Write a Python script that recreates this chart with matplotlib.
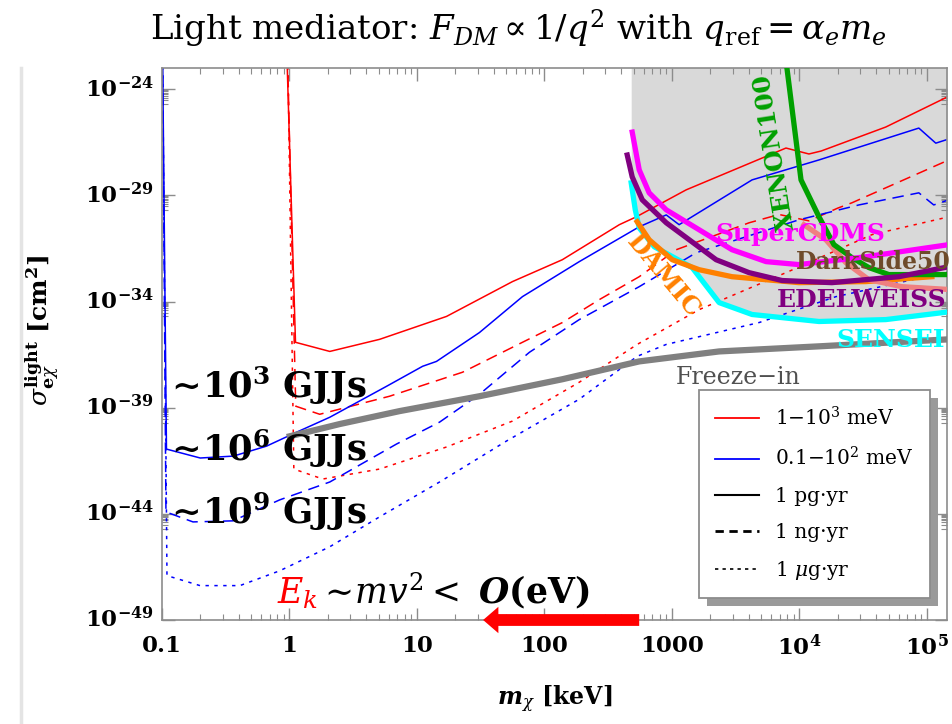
import numpy as np
import matplotlib.pyplot as plt
from matplotlib.lines import Line2D
from matplotlib.patches import Rectangle, FancyArrowPatch
from matplotlib.ticker import NullFormatter

# log10(m_chi / keV) and log10(sigma / cm^2) for every curve
red_pg_m = [-0.02, 0.047, 0.316, 0.707, 1.232, 1.749, 2.14, 2.587, 2.72, 3.111, 3.894, 4.074, 4.17, 4.677, 5.171]
red_pg_s = [-22.5, -35.92, -36.35, -35.78, -34.70, -33.06, -32.03, -30.38, -30.01, -28.74, -26.77, -27.05, -26.91, -25.78, -24.33]
red_ng_m = [-0.015, 0.049, 0.237, 0.785, 1.357, 1.827, 2.14, 2.43, 2.743, 3.033, 3.605, 3.84, 4.074, 4.30, 4.411, 5.171]
red_ng_s = [-22.5, -38.93, -39.31, -38.46, -37.33, -35.92, -34.99, -33.91, -32.83, -31.56, -30.29, -29.9, -30.2, -29.6, -29.35, -27.33]
red_ug_m = [-0.013, 0.034, 0.261, 0.707, 1.232, 1.749, 2.273, 2.727, 3.213, 3.894, 4.568, 5.171]
red_ug_s = [-22.5, -41.89, -42.36, -41.89, -40.85, -39.63, -37.80, -36.02, -34.38, -32.64, -30.85, -30.01]

blue_pg_m = [-0.995, -0.965, -0.70, -0.44, -0.18, 0.057, 0.316, 0.762, 1.044, 1.153, 1.49, 1.827, 2.273, 2.743, 2.955, 3.056, 3.628, 4.153, 4.936, 5.069, 5.194]
blue_pg_s = [-22.5, -40.95, -41.37, -41.28, -40.81, -40.15, -39.45, -37.99, -37.05, -36.82, -35.46, -33.77, -32.12, -30.48, -29.92, -30.38, -28.27, -27.33, -25.83, -26.54, -26.30]
blue_ng_m = [-0.995, -0.969, -0.757, -0.444, -0.076, 0.316, 0.840, 1.177, 1.490, 1.882, 2.273, 2.743, 3.190, 3.996, 4.466, 4.936, 5.053, 5.171]
blue_ng_s = [-22.5, -43.91, -44.38, -44.33, -43.34, -42.50, -40.71, -39.68, -38.37, -36.39, -34.85, -33.30, -31.70, -30.15, -29.45, -28.88, -29.45, -29.21]
blue_ug_m = [-0.995, -0.961, -0.702, -0.389, -0.076, 0.316, 0.707, 1.177, 1.702, 2.273, 2.727, 2.955, 3.683, 4.286, 5.171]
blue_ug_s = [-22.5, -46.91, -47.38, -47.38, -46.68, -45.55, -44.14, -42.50, -40.57, -38.60, -36.58, -36.02, -34.99, -33.77, -32.59]

freeze_m = [-0.021, 0.394, 0.864, 1.490, 2.140, 2.743, 3.370, 4.153, 5.171]
freeze_s = [-40.38, -39.77, -39.16, -38.46, -37.66, -36.82, -36.35, -36.11, -35.78]

# existing experimental limits
sensei_m = [2.680, 2.712, 2.743, 2.861, 3.017, 3.158, 3.213, 3.370, 3.628, 4.153, 4.677, 5.194]
sensei_s = [-28.41, -29.68, -30.53, -31.42, -31.93, -32.40, -32.83, -34.05, -34.61, -34.94, -34.85, -34.47]
damic_m = [2.727, 2.821, 3.002, 3.213, 3.471, 3.996, 4.521, 5.038]
damic_s = [-30.24, -31.09, -32.03, -32.50, -32.83, -33.11, -33.06, -32.83]
edelweiss_m = [2.649, 2.688, 2.767, 2.955, 3.135, 3.346, 3.605, 3.863, 4.254, 4.779, 5.171]
edelweiss_s = [-27.10, -28.13, -29.21, -30.29, -31.09, -32.03, -32.64, -33.01, -33.11, -32.83, -32.36]
supercdms_m = [2.688, 2.743, 2.821, 2.955, 3.213, 3.471, 3.738, 3.996, 4.521, 5.171]
supercdms_s = [-26.02, -27.80, -28.88, -29.68, -30.62, -31.56, -32.12, -32.26, -31.89, -31.32]
xenon_m = [3.894, 4.012, 4.153, 4.270, 4.411, 4.544, 4.701, 5.171]
xenon_s = [-22.64, -28.27, -30.01, -31.32, -31.93, -32.40, -32.73, -32.73]
darkside_m = [4.035, 4.207, 4.364, 4.544, 4.803, 5.194]
darkside_s = [-30.38, -31.09, -32.17, -32.97, -33.30, -33.44]

legend_labels = [r'1$-$10$^3$ meV', r'0.1$-$10$^2$ meV', '1 pg·yr', '1 ng·yr', r'1 $\mu$g·yr']
xtick_vals = [0.1, 1, 10, 100, 1000, 1e4, 1e5]
xtick_labels = ['0.1', '1', '10', '100', '1000', r'$\mathbf{10^4}$', r'$\mathbf{10^5}$']
ytick_exp = [-49, -44, -39, -34, -29, -24]

plt.rcParams['font.family'] = 'DejaVu Serif'
plt.rcParams['mathtext.fontset'] = 'dejavuserif'

W, H = 953, 724
fig = plt.figure(figsize=(W / 100, H / 100), dpi=100)


def fp(px, py):
    return px / W, 1 - py / H


ax = fig.add_axes([162 / W, 1 - 620 / H, (947 - 162) / W, (620 - 68) / H])
ax.set_xscale('log')
ax.set_yscale('log')
ax.patch.set_alpha(0)


def xy(m, s):
    return 10 ** np.array(m), 10 ** np.array(s)


# excluded region above the strongest limit
limits = [(sensei_m, sensei_s), (damic_m, damic_s), (edelweiss_m, edelweiss_s),
          (supercdms_m, supercdms_s), (xenon_m, xenon_s), (darkside_m, darkside_s)]
grid = np.linspace(2.68, 5.157, 500)
env = np.min([np.interp(grid, m, s, left=np.inf, right=np.inf) for m, s in limits], axis=0)
ax.fill_between(10 ** grid, 10 ** env, 1e-20, color='#d9d9d9', lw=0, zorder=0)

dash = (0, (7.5, 4.5))
dot = (0, (2.2, 3.6))
for m, s, c, ls in [(red_pg_m, red_pg_s, 'red', '-'), (red_ng_m, red_ng_s, 'red', dash),
                    (red_ug_m, red_ug_s, 'red', dot), (blue_pg_m, blue_pg_s, 'blue', '-'),
                    (blue_ng_m, blue_ng_s, 'blue', dash), (blue_ug_m, blue_ug_s, 'blue', dot)]:
    ax.plot(*xy(m, s), color=c, lw=1.1, ls=ls, zorder=2)

ax.plot(*xy(freeze_m, freeze_s), color='#808080', lw=4.5, solid_capstyle='butt', zorder=3)

for m, s, c in [(sensei_m, sensei_s, '#00ffff'), (damic_m, damic_s, '#ff8000'),
                (darkside_m, darkside_s, '#f08080'), (xenon_m, xenon_s, '#00a000'),
                (edelweiss_m, edelweiss_s, '#800080'), (supercdms_m, supercdms_s, '#ff00ff')]:
    ax.plot(*xy(m, s), color=c, lw=3.8, zorder=4)

# frame and ticks
for sp in ax.spines.values():
    sp.set_color('#8c8c8c')
    sp.set_linewidth(1.2)
ax.set_xticks(xtick_vals)
ax.set_xticklabels(xtick_labels, fontweight='bold', fontsize=16.5)
ax.set_xticks([m * 10.0 ** e for e in range(-1, 6) for m in range(2, 10)], minor=True)
ax.set_yticks([10.0 ** e for e in ytick_exp])
ax.set_yticklabels([r'$\mathbf{10^{%d}}$' % e for e in ytick_exp], fontsize=16.5, va='center')
ax.set_yticks([m * 10.0 ** (e - 1) for e in ytick_exp for m in range(2, 10)], minor=True)
ax.xaxis.set_minor_formatter(NullFormatter())
ax.yaxis.set_minor_formatter(NullFormatter())
# limits last, so the fixed tick lists cannot widen them
ax.set_xlim(0.1, 10 ** 5.157)
ax.set_ylim(1e-49, 1e-23)
ax.tick_params(which='both', direction='in', top=True, right=True, color='#8c8c8c')
ax.tick_params(which='major', length=9, width=1.0)
ax.tick_params(which='minor', length=4.5, width=0.8)
ax.tick_params(axis='x', pad=11)
ax.tick_params(axis='y', pad=6)

ax.set_xlabel(r'$\mathbfit{m}_{\chi}$ [keV]', fontsize=17, fontweight='bold')
ax.xaxis.set_label_coords(0.5, -0.116)
fig.text(*fp(42, 330), r'$\sigma_{\mathbf{e}\chi}^{\mathbf{light}}$ [cm$^{\mathbf{2}}$]', fontsize=18,
         fontweight='bold', rotation=90, ha='center', va='center')

# legend with a drop shadow
handles = [Line2D([], [], color='red', lw=1.3), Line2D([], [], color='blue', lw=1.3),
           Line2D([], [], color='black', lw=1.5), Line2D([], [], color='black', lw=2, ls=(0, (3, 2))),
           Line2D([], [], color='black', lw=1.2, ls=(0, (2, 2.5)))]
leg = ax.legend(handles, legend_labels, loc='upper left', bbox_to_anchor=(0.684, 0.4167),
                frameon=True, fancybox=False, edgecolor='#8c8c8c', framealpha=1, fontsize=14.5,
                handlelength=2.2, labelspacing=0.85, borderpad=0.8, borderaxespad=0)
leg.get_frame().set_linewidth(1.3)
leg.set_zorder(10)

# curve labels
lab = dict(fontweight='bold', fontsize=18, ha='center', va='center', zorder=6)
fig.text(*fp(800, 234), 'SuperCDMS', color='#ff00ff', **lab)
fig.text(*fp(873, 262), 'DarkSide50', color='#6e4b2b', **dict(lab, fontsize=17))
fig.text(*fp(862, 300), 'EDELWEISS', color='#800080', **lab)
fig.text(*fp(891, 340), 'SENSEI', color='#00ffff', **lab)
fig.text(*fp(663, 276), 'DAMIC', color='#ff8000', rotation=-50, **lab)
fig.text(*fp(775, 152), 'XENON100', color='#00a000', rotation=99, **lab)
fig.text(*fp(738, 377), 'Freeze−in', color='#505050', fontsize=17, ha='center', va='center')

# exposure annotations
for py, n in [(398, 3), (461, 6), (524, 9)]:
    fig.text(*fp(165, py), r'$\mathbf{\sim\!10^{%d}}$' % n + ' GJJs', fontsize=25.5,
             fontweight='bold', ha='left', va='baseline')

fig.text(*fp(277, 603), r'$E_k$', color='red', fontsize=25, ha='left', va='baseline')
fig.text(*fp(318, 603), r'$\sim\! mv^2 <\ \mathbfit{O}\mathbf{(eV)}$', color='black', fontsize=25,
         ha='left', va='baseline')
ax.add_patch(FancyArrowPatch((553, 1e-49), (33, 1e-49), transform=ax.transData, clip_on=False,
                             arrowstyle='simple,head_width=1.9,head_length=1.1,tail_width=0.85',
                             mutation_scale=10, color='red', lw=0, shrinkA=0, shrinkB=0, zorder=8))

fig.text(*fp(518, 41), r'Light mediator: $F_{DM} \propto 1/q^2$ with $q_{\rm ref} = \alpha_e m_e$',
         fontsize=24.5, ha='center', va='baseline')

fig.add_artist(Line2D([21 / W, 21 / W], [0, 1 - 68 / H], color='#e4e4e4', lw=2.5))

fig.canvas.draw()
bb = leg.get_window_extent()
ax.add_artist(Rectangle((bb.x0 + 8, bb.y0 - 8), bb.width, bb.height, transform=None,
                        facecolor='#9a9a9a', edgecolor='none', zorder=9.5))

fig.savefig('out.png', dpi=100)
